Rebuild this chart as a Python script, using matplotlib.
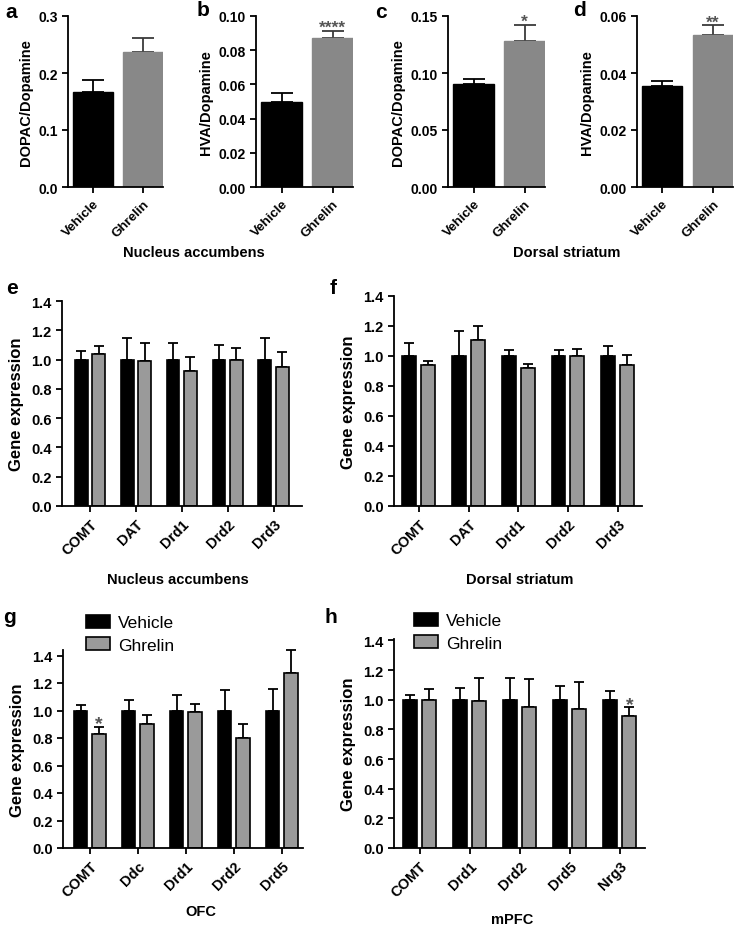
import matplotlib
matplotlib.use("Agg")
import matplotlib.pyplot as plt
import numpy as np
from matplotlib.patches import Patch
from matplotlib.ticker import FormatStrFormatter

plt.rcParams["font.family"] = ["Liberation Sans", "DejaVu Sans"]

# ----------------------------------
# data
# ----------------------------------

treatments = ["Vehicle", "Ghrelin"]

# top row: metabolite / dopamine ratios
a_mean = [0.167, 0.236]
a_err = [0.021, 0.026]
b_mean = [0.050, 0.087]
b_err = [0.0048, 0.0042]
c_mean = [0.0905, 0.1285]
c_err = [0.0045, 0.014]
d_mean = [0.0353, 0.0533]
d_err = [0.0019, 0.0035]

# gene expression panels
e_genes = ["COMT", "DAT", "Drd1", "Drd2", "Drd3"]
e_veh = [1.0, 1.0, 1.0, 1.0, 1.0]
e_veh_err = [0.06, 0.15, 0.11, 0.10, 0.15]
e_ghr = [1.04, 0.99, 0.92, 1.00, 0.95]
e_ghr_err = [0.05, 0.12, 0.10, 0.08, 0.10]

f_genes = ["COMT", "DAT", "Drd1", "Drd2", "Drd3"]
f_veh = [1.0, 1.0, 1.0, 1.0, 1.0]
f_veh_err = [0.09, 0.17, 0.04, 0.04, 0.07]
f_ghr = [0.94, 1.11, 0.92, 1.00, 0.94]
f_ghr_err = [0.03, 0.09, 0.03, 0.05, 0.07]

g_genes = ["COMT", "Ddc", "Drd1", "Drd2", "Drd5"]
g_veh = [1.0, 1.0, 1.0, 1.0, 1.0]
g_veh_err = [0.04, 0.08, 0.11, 0.15, 0.16]
g_ghr = [0.83, 0.90, 0.99, 0.80, 1.27]
g_ghr_err = [0.05, 0.07, 0.06, 0.10, 0.17]

h_genes = ["COMT", "Drd1", "Drd2", "Drd5", "Nrg3"]
h_veh = [1.0, 1.0, 1.0, 1.0, 1.0]
h_veh_err = [0.03, 0.08, 0.15, 0.09, 0.06]
h_ghr = [1.00, 0.99, 0.95, 0.94, 0.89]
h_ghr_err = [0.07, 0.16, 0.19, 0.18, 0.06]

# ----------------------------------
# figure helpers
# ----------------------------------

W, H = 739, 928
fig = plt.figure(figsize=(W / 100, H / 100), dpi=100)

BLACK = "#000000"
GREY_TOP = "#888888"
GREY = "#9a9a9a"
STAR = "#555555"


def rect(left, right, top, bottom):
    return [left / W, 1 - bottom / H, (right - left) / W, (bottom - top) / H]


def style(ax, ysize, xsize):
    for s in ["top", "right"]:
        ax.spines[s].set_visible(False)
    for s in ["left", "bottom"]:
        ax.spines[s].set_linewidth(1.3)
    ax.tick_params(width=1.3, length=4)
    ax.tick_params(axis="y", labelsize=ysize)
    ax.tick_params(axis="x", labelsize=xsize)
    for lab in ax.get_yticklabels() + ax.get_xticklabels():
        lab.set_fontweight("bold")


def up_err(ax, x, y, err, color, cap):
    ax.errorbar(x, y, yerr=[np.zeros(len(err)), err], fmt="none",
                ecolor=color, elinewidth=1.3, capsize=cap, capthick=1.3,
                clip_on=False, zorder=1)


def top_panel(box, means, errs, ymax, step, fmt, ylabel, stars):
    ax = fig.add_axes(rect(*box))
    x = np.arange(len(treatments))
    up_err(ax, x[:1], means[:1], errs[:1], BLACK, 8)
    up_err(ax, x[1:], means[1:], errs[1:], "#3a3a3a", 8)
    ax.bar(x, means, width=0.8, color=[BLACK, GREY_TOP],
           edgecolor=[BLACK, GREY_TOP], zorder=2)
    ax.set_xlim(-0.5, 1.4)
    ax.set_ylim(0, ymax)
    ax.set_yticks(np.arange(0, ymax + step / 2, step))
    ax.yaxis.set_major_formatter(FormatStrFormatter(fmt))
    ax.set_xticks(x)
    ax.set_xticklabels(treatments, rotation=45, ha="right",
                       rotation_mode="anchor")
    ax.set_ylabel(ylabel, fontsize=10.5, fontweight="bold", labelpad=4)
    style(ax, 10, 9.5)
    if stars:
        ax.annotate(stars, (1, means[1] + errs[1]), xytext=(0, -3),
                    textcoords="offset points", ha="center", va="bottom",
                    fontsize=12.5, fontweight="bold", color=STAR,
                    annotation_clip=False)
    return ax


def gene_panel(box, genes, veh, veh_err, ghr, ghr_err, xlim, ymax, star_idx=None):
    ax = fig.add_axes(rect(*box))
    x = np.arange(len(genes))
    off = 0.19
    w = 0.28
    up_err(ax, x - off, veh, veh_err, BLACK, 3.5)
    up_err(ax, x + off, ghr, ghr_err, BLACK, 3.5)
    ax.bar(x - off, veh, width=w, color=BLACK, edgecolor=BLACK,
           linewidth=1.2, zorder=2, label="Vehicle")
    ax.bar(x + off, ghr, width=w, color=GREY, edgecolor=BLACK,
           linewidth=1.2, zorder=2, label="Ghrelin")
    ax.set_xlim(*xlim)
    ax.set_ylim(0, ymax)
    ax.set_yticks(np.arange(0, 1.41, 0.2))
    ax.yaxis.set_major_formatter(FormatStrFormatter("%.1f"))
    ax.set_xticks(x)
    ax.set_xticklabels(genes, rotation=45, ha="right", rotation_mode="anchor")
    ax.set_ylabel("Gene expression", fontsize=12, fontweight="bold", labelpad=5)
    style(ax, 10.5, 10.5)
    if star_idx is not None:
        i = star_idx
        ax.annotate("*", (i + off, ghr[i] + ghr_err[i]), xytext=(0, -4),
                    textcoords="offset points", ha="center", va="bottom",
                    fontsize=14, fontweight="bold", color=STAR,
                    annotation_clip=False)
    return ax


# ----------------------------------
# top row
# ----------------------------------

top_panel((68, 163, 17, 188), a_mean, a_err, 0.3, 0.1, "%.1f", "DOPAC/Dopamine", None)
top_panel((256, 353, 17, 188), b_mean, b_err, 0.10, 0.02, "%.2f", "HVA/Dopamine", "****")
top_panel((448, 545, 17, 188), c_mean, c_err, 0.15, 0.05, "%.2f", "DOPAC/Dopamine", "*")
top_panel((637, 733, 17, 188), d_mean, d_err, 0.06, 0.02, "%.2f", "HVA/Dopamine", "**")

# ----------------------------------
# middle and bottom rows
# ----------------------------------

gene_panel((62, 302, 302, 507), e_genes, e_veh, e_veh_err, e_ghr, e_ghr_err,
           (-0.61, 4.62), 1.4)
gene_panel((394, 642, 297, 507), f_genes, f_veh, f_veh_err, f_ghr, f_ghr_err,
           (-0.50, 4.49), 1.4)
ax_g = gene_panel((63, 303, 651, 849), g_genes, g_veh, g_veh_err, g_ghr, g_ghr_err,
                  (-0.56, 4.44), 1.44, star_idx=0)
ax_h = gene_panel((394, 645, 640, 849), h_genes, h_veh, h_veh_err, h_ghr, h_ghr_err,
                  (-0.51, 4.50), 1.41, star_idx=4)

handles = [Patch(facecolor=BLACK, edgecolor=BLACK, linewidth=1.2),
           Patch(facecolor=GREY, edgecolor=BLACK, linewidth=1.2)]
for ax, (lx, ly) in [(ax_g, (86, 616)), (ax_h, (414, 614))]:
    ax.legend(handles, treatments, loc="upper left",
              bbox_to_anchor=(lx / W, 1 - ly / H), bbox_transform=fig.transFigure,
              frameon=False, fontsize=12.5, handlelength=1.4, handleheight=0.75,
              handletextpad=0.45, labelspacing=0.4, borderaxespad=0, borderpad=0)

# ----------------------------------
# region labels and panel letters
# ----------------------------------

regions = [("Nucleus accumbens", 194, 253), ("Dorsal striatum", 567, 253),
           ("Nucleus accumbens", 178, 580), ("Dorsal striatum", 520, 580),
           ("OFC", 201, 912), ("mPFC", 512, 920)]
for txt, x, y in regions:
    fig.text(x / W, 1 - y / H, txt, ha="center", va="center",
             fontsize=10.5, fontweight="bold")

letters = [("a", 11, 12), ("b", 203, 10), ("c", 381, 12), ("d", 580, 10),
           ("e", 12, 289), ("f", 333, 289), ("g", 9, 618), ("h", 331, 618)]
for txt, x, y in letters:
    fig.text(x / W, 1 - y / H, txt, ha="center", va="center",
             fontsize=15, fontweight="bold")

fig.savefig("out.png", dpi=100)
